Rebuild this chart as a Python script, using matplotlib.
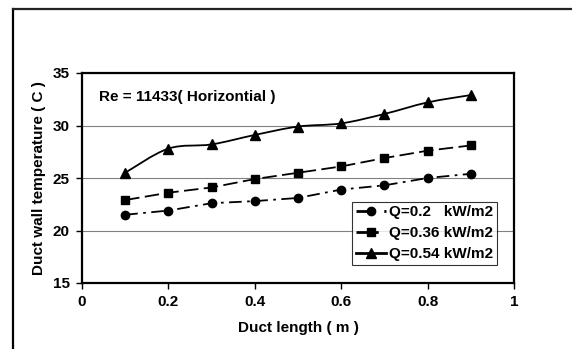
import matplotlib

matplotlib.use("Agg")
import matplotlib.pyplot as plt
from matplotlib.lines import Line2D
from matplotlib.patches import PathPatch
from matplotlib.path import Path

plt.rcParams["font.family"] = ["Liberation Sans", "DejaVu Sans"]
plt.rcParams["font.weight"] = "bold"

# duct position (m) and wall temperature (C) for each heat flux
length = [0.1, 0.2, 0.3, 0.4, 0.5, 0.6, 0.7, 0.8, 0.9]
t_q020 = [21.5, 21.9, 22.6, 22.8, 23.1, 23.9, 24.3, 25.0, 25.4]
t_q036 = [22.9, 23.6, 24.1, 24.9, 25.5, 26.1, 26.9, 27.6, 28.1]
t_q054 = [25.5, 27.8, 28.2, 29.1, 29.9, 30.2, 31.1, 32.2, 32.9]
labels = ["Q=0.2   kW/m2", "Q=0.36 kW/m2", "Q=0.54 kW/m2"]
x_ticks = [0, 0.2, 0.4, 0.6, 0.8, 1]
x_ticklabels = ["0", "0.2", "0.4", "0.6", "0.8", "1"]
y_ticks = [15, 20, 25, 30, 35]


def smooth_path(xs, ys):
    # Excel-like smoothed line: Catmull-Rom segments as cubic Beziers
    verts = [(xs[0], ys[0])]
    codes = [Path.MOVETO]
    n = len(xs)
    for i in range(n - 1):
        x0, y0 = (xs[i - 1], ys[i - 1]) if i > 0 else (xs[i], ys[i])
        x1, y1 = xs[i], ys[i]
        x2, y2 = xs[i + 1], ys[i + 1]
        x3, y3 = (xs[i + 2], ys[i + 2]) if i + 2 < n else (x2, y2)
        c1 = (x1 + (x2 - x0) / 6, y1 + (y2 - y0) / 6)
        c2 = (x2 - (x3 - x1) / 6, y2 - (y3 - y1) / 6)
        verts += [c1, c2, (x2, y2)]
        codes += [Path.CURVE4] * 3
    return Path(verts, codes)


fig = plt.figure(figsize=(5.72, 3.49), dpi=100)

# outer chart frame (only left and top edges are visible in the crop)
fig.add_artist(Line2D([12.5 / 572, 12.5 / 572], [0, 1 - 8.5 / 349],
                      transform=fig.transFigure, color="black", lw=1.6))
fig.add_artist(Line2D([12.5 / 572, 1], [1 - 8.5 / 349, 1 - 8.5 / 349],
                      transform=fig.transFigure, color="#222222", lw=1.6))

ax = fig.add_axes([82 / 572, 1 - 283 / 349, 432 / 572, 210 / 349])

fs = 11
lw = 1.3
dashdot = (0, (7, 3, 1.5, 3))
dashed = (0, (8, 3))
ax.plot(length, t_q020, color="black", lw=lw, ls=dashdot, marker="o", ms=6, zorder=3)
ax.plot(length, t_q036, color="black", lw=lw, ls=dashed, marker="s", ms=6, zorder=3)
ax.add_patch(PathPatch(smooth_path(length, t_q054), fill=False, edgecolor="black", lw=lw, zorder=3))
ax.plot(length, t_q054, color="black", ls="none", marker="^", ms=7, zorder=4)

handles = [
    Line2D([], [], color="black", lw=2, ls=dashdot, marker="o", ms=6),
    Line2D([], [], color="black", lw=2, ls=dashed, marker="s", ms=6),
    Line2D([], [], color="black", lw=2, ls="-", marker="^", ms=7),
]
leg = ax.legend(handles, labels, loc="upper left", bbox_to_anchor=(0.625, 0.388),
                fontsize=fs, frameon=True, fancybox=False, borderpad=0.25,
                labelspacing=0.45, handlelength=2.0, handletextpad=0.15,
                borderaxespad=0)
leg.get_frame().set_edgecolor("black")
leg.get_frame().set_linewidth(0.8)

ax.text(0.039, 0.886, "Re = 11433( Horizontial )", transform=ax.transAxes,
        fontsize=fs, fontweight="bold", va="center", ha="left")

ax.set_xlim(0, 1)
ax.set_ylim(15, 35)
ax.set_xticks(x_ticks)
ax.set_xticklabels(x_ticklabels)
ax.set_yticks(y_ticks)
ax.yaxis.grid(True, color="#808080", lw=0.8)
ax.set_axisbelow(True)
for s in ax.spines.values():
    s.set_linewidth(1.6)
ax.tick_params(labelsize=fs, length=4, width=1, pad=5)
ax.set_xlabel("Duct length ( m )", fontsize=fs, fontweight="bold", labelpad=8)
ax.set_ylabel("Duct wall temperature ( C )", fontsize=fs, fontweight="bold", labelpad=5)

fig.savefig("out.png", dpi=100)
